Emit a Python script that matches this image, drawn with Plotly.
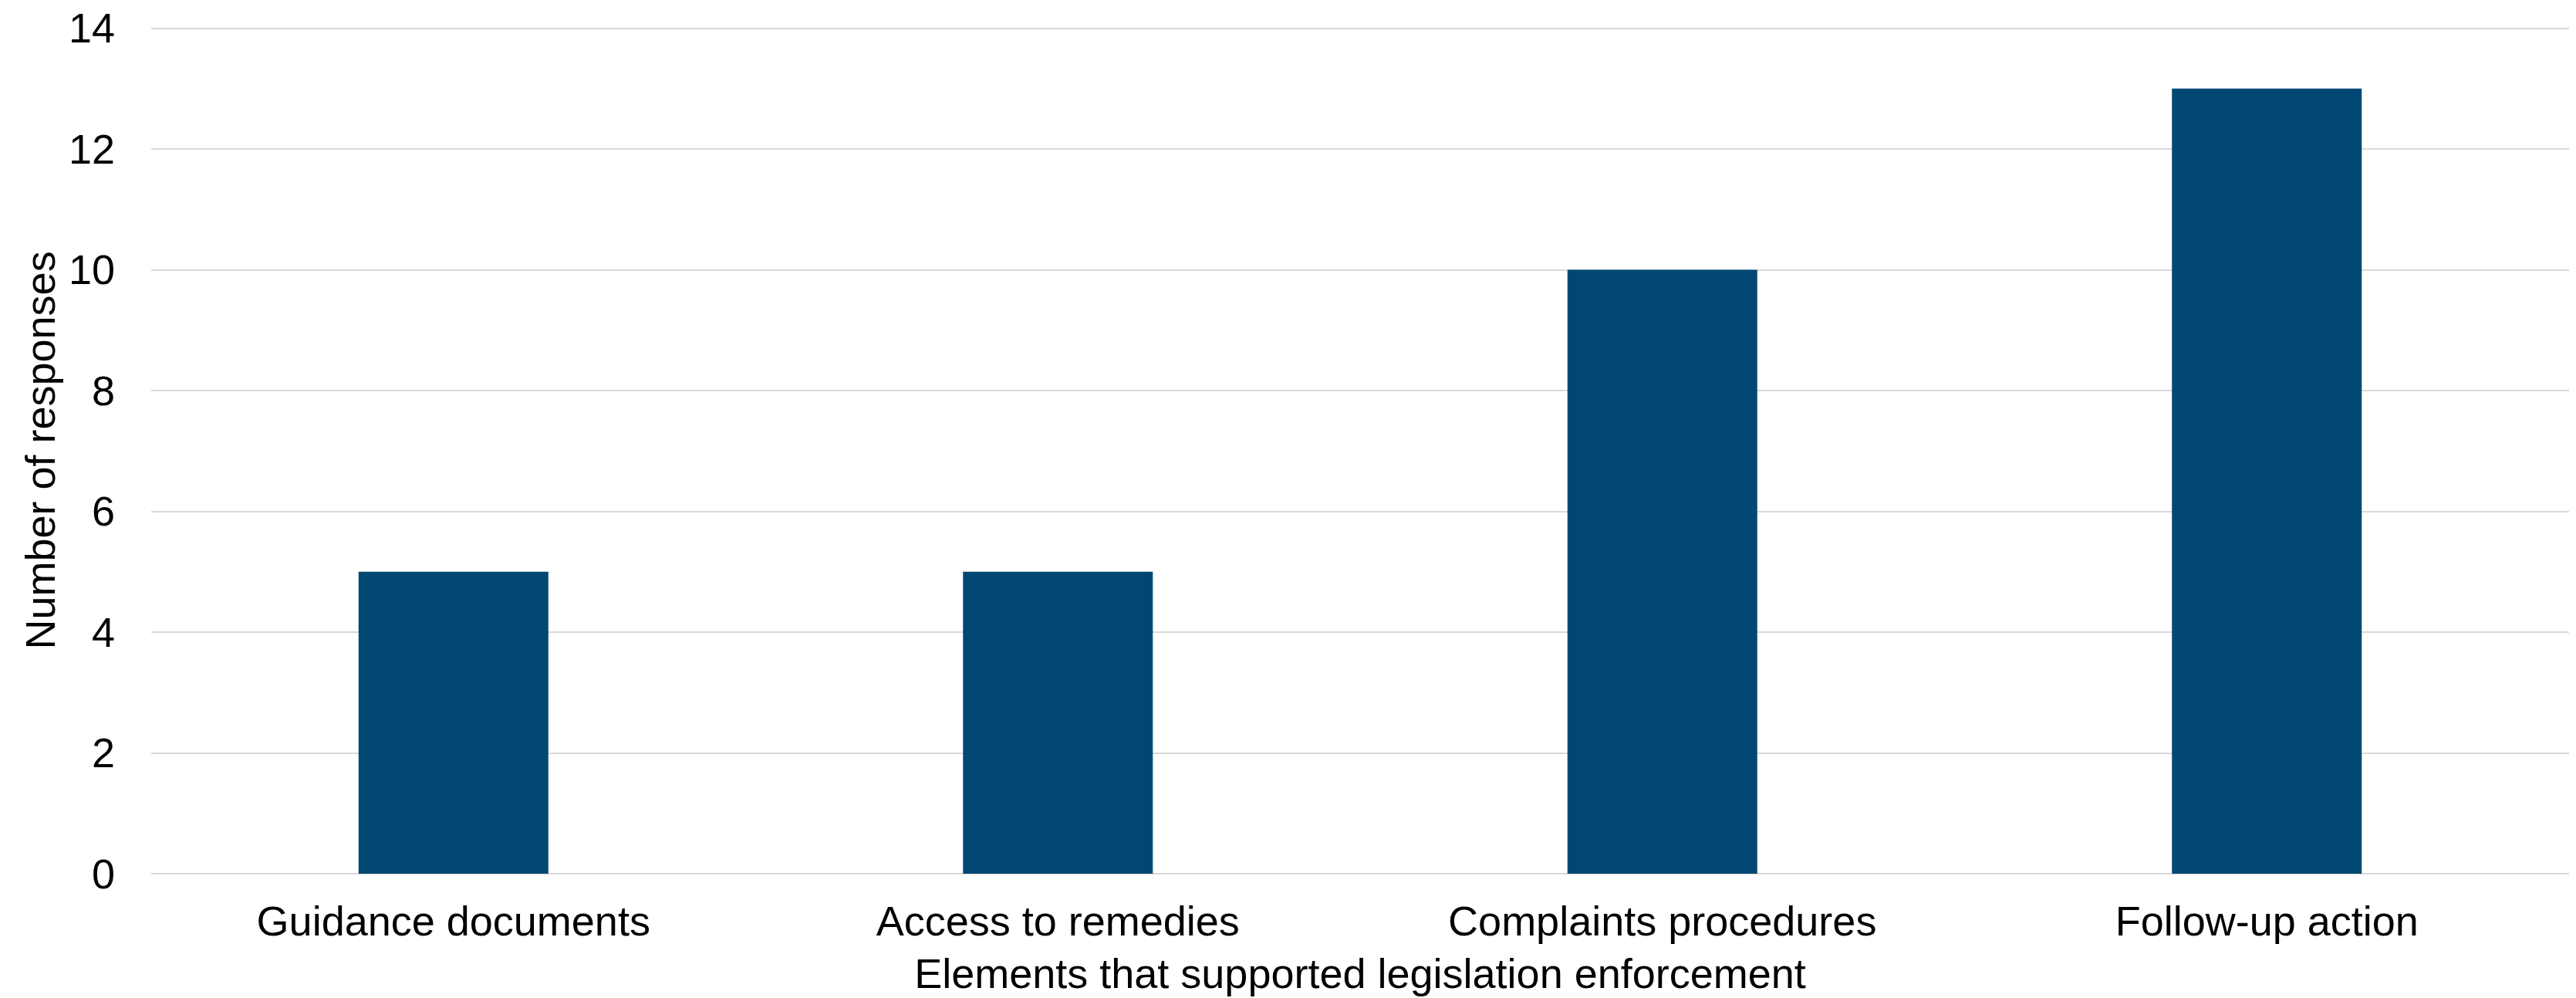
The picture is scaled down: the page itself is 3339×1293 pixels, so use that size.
import plotly.graph_objects as go

categories = ["Guidance documents", "Access to remedies", "Complaints procedures", "Follow-up action"]
responses = [5, 5, 10, 13]
y_ticks = [0, 2, 4, 6, 8, 10, 12, 14]

x_title = "Elements that supported legislation enforcement"
y_title = "Number of responses"

FONT = "Liberation Sans, Arial, sans-serif"

fig = go.Figure(
    go.Bar(
        x=categories,
        y=responses,
        marker=dict(color="#004873", line=dict(width=0)),
        hoverinfo="x+y",
    )
)

fig.update_layout(
    width=3339,
    height=1293,
    margin=dict(l=196, r=9, t=35, b=161, pad=0),
    paper_bgcolor="white",
    plot_bgcolor="white",
    bargap=0.686,
    showlegend=False,
    font=dict(family=FONT, size=54, color="#000000"),
)

fig.update_xaxes(
    automargin=False,
    showgrid=False,
    showline=False,
    ticks="",
    ticklabelstandoff=25,
    tickfont=dict(family=FONT, size=54, color="#000000"),
    title=dict(text=x_title, font=dict(family=FONT, size=54, color="#000000"), standoff=20),
)

fig.update_yaxes(
    automargin=False,
    range=[0, 14.02],
    tickvals=y_ticks,
    showgrid=True,
    gridcolor="#D9D9D9",
    gridwidth=2,
    zeroline=True,
    zerolinecolor="#D9D9D9",
    zerolinewidth=2,
    showline=False,
    ticks="",
    ticklabelstandoff=46,
    ticklabeloverflow="allow",
    tickfont=dict(family=FONT, size=54, color="#000000"),
    title=dict(text=y_title, font=dict(family=FONT, size=54, color="#000000"), standoff=0),
)

# remove the browser's default body margin so the figure fills the window exactly
fig.write_html(
    "out.html",
    config={"displayModeBar": False},
    post_script="document.body.style.margin='0';document.body.style.overflow='hidden';",
)
